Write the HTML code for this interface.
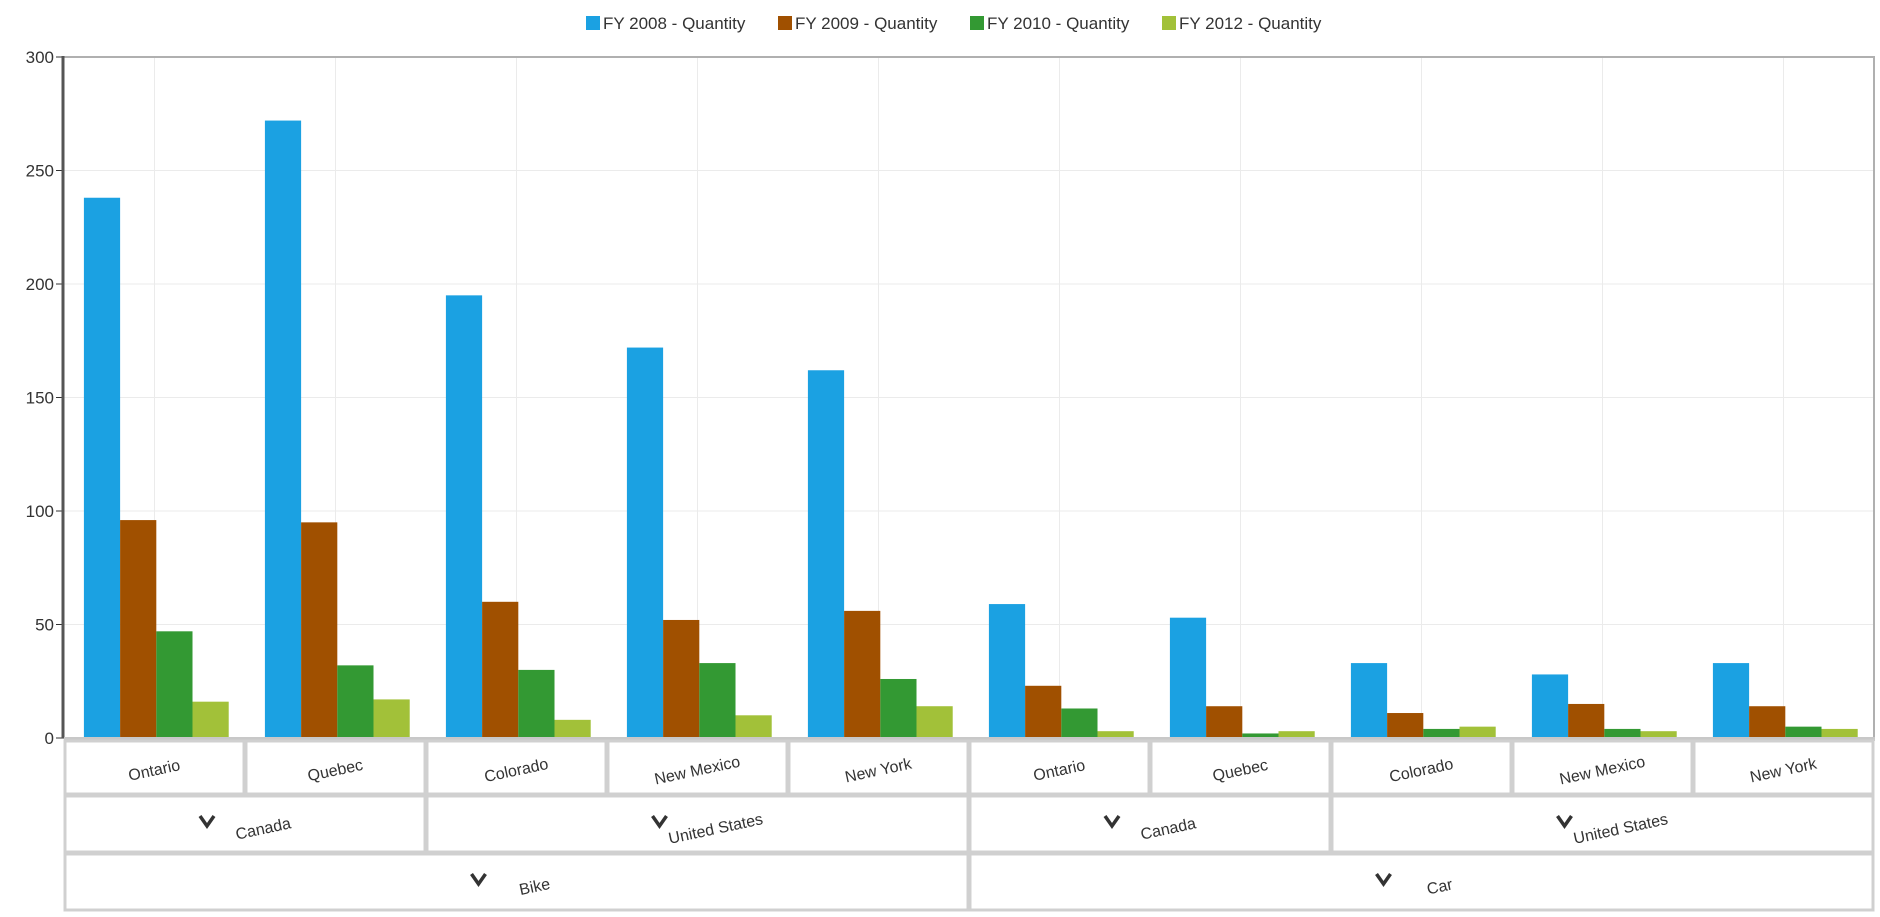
<!DOCTYPE html>
<html><head><meta charset="utf-8"><style>
html,body{margin:0;padding:0;background:#fff;width:1880px;height:917px;overflow:hidden;font-family:"Liberation Sans",sans-serif;}
svg text{font-family:"Liberation Sans",sans-serif;}
</style></head><body>
<svg id="chart" width="1880" height="917" xmlns="http://www.w3.org/2000/svg"></svg>
<script>
const categories=["Ontario","Quebec","Colorado","New Mexico","New York","Ontario","Quebec","Colorado","New Mexico","New York"];
const countries=[["Canada",0,2],["United States",2,5],["Canada",5,7],["United States",7,10]];
const products=[["Bike",0,5],["Car",5,10]];
const seriesNames=["FY 2008 - Quantity","FY 2009 - Quantity","FY 2010 - Quantity","FY 2012 - Quantity"];
const fy2008=[238,272,195,172,162,59,53,33,28,33];
const fy2009=[96,95,60,52,56,23,14,11,15,14];
const fy2010=[47,32,30,33,26,13,2,4,4,5];
const fy2012=[16,17,8,10,14,3,3,5,3,4];
const yTicks=[0,50,100,150,200,250,300];
const colors=["#1ba1e2","#a05000","#339933","#a2c139"];
const series=[fy2008,fy2009,fy2010,fy2012];

const NS="http://www.w3.org/2000/svg";
const svg=document.getElementById('chart');
const L=64,R=1874,T=57,B=738,yMax=300;
const gw=(R-L)/categories.length;
function y(v){return B-(v/yMax)*(B-T);}
function x(i){return L+i*gw;}
function mk(tag,attrs,parent){const e=document.createElementNS(NS,tag);for(const k in attrs)e.setAttribute(k,attrs[k]);(parent||svg).appendChild(e);return e;}

// gridlines
yTicks.forEach(t=>{
  const g=mk('line',{x1:L,x2:R,y1:y(t),y2:y(t),stroke:'#ebebeb','stroke-width':1});
  
  
  const tk=mk('line',{x1:L-8,x2:L,y1:y(t),y2:y(t),stroke:'#333','stroke-width':1});
  
  
  const lb=mk('text',{x:L-10,y:y(t)+6,'text-anchor':'end','font-size':17,fill:'#333'});
  lb.textContent=t;
  
  
});
categories.forEach((c,i)=>{
  const g=mk('line',{x1:x(i)+gw/2,x2:x(i)+gw/2,y1:T,y2:B,stroke:'#ebebeb','stroke-width':1});
  
  
});
// plot border
const tb=mk('line',{x1:L,x2:R+1,y1:T,y2:T,stroke:'#b0b0b0','stroke-width':2});


const rb=mk('line',{x1:R,x2:R,y1:T,y2:B,stroke:'#b0b0b0','stroke-width':2});



// bars
const bw=gw*0.8/4, off=gw*0.11;
series.forEach((s,si)=>{
  s.forEach((v,i)=>{
    const r=mk('rect',{x:x(i)+off+si*bw,y:y(v),width:bw,height:B-y(v),fill:colors[si]});
    
    
  });
});
// axes
const ax=mk('line',{x1:L-1,x2:L-1,y1:T-1,y2:B,stroke:'#555','stroke-width':3});


const bx=mk('line',{x1:L,x2:R+1,y1:B+1,y2:B+1,stroke:'#c8c8c8','stroke-width':4});



// label table
const rows=[[B+2,795],[795,853],[853,911]];
function cell(x1,x2,r,label,chev,name){
  const rc=mk('rect',{x:x1+1,y:rows[r][0]+1,width:x2-x1-2,height:rows[r][1]-rows[r][0]-2,fill:'#fff',stroke:'#d0d0d0','stroke-width':3});
  
  
  const cx=(x1+x2)/2, cy=(rows[r][0]+rows[r][1])/2+4;
  const tx=chev?cx+18:cx;
  if(chev){
    const p=mk('polyline',{points:`${cx-45},${cy-12} ${cx-38},${cy-2} ${cx-31},${cy-12}`,fill:'none',stroke:'#333','stroke-width':3.5});
    
    
  }
  const t=mk('text',{x:tx,y:cy+(chev?6:4),'text-anchor':'middle','font-size':16,fill:'#333',transform:`rotate(-12 ${tx} ${cy})`});
  t.textContent=label;
  
  
}
categories.forEach((c,i)=>cell(x(i),x(i+1),0,c,false,'region-'+i));
countries.forEach((c,i)=>cell(x(c[1]),x(c[2]),1,c[0],true,'country-'+i));
products.forEach((c,i)=>cell(x(c[1]),x(c[2]),2,c[0],true,'product-'+i));

// legend
const lx=[586,778,970,1162];
seriesNames.forEach((n,i)=>{
  const g=mk('g',{});
  
  
  mk('rect',{x:lx[i],y:16,width:14,height:14,fill:colors[i]},g);
  const t=mk('text',{x:lx[i]+17,y:29,'font-size':17,fill:'#333'},g);
  t.textContent=n;
});
</script>
</body></html>
